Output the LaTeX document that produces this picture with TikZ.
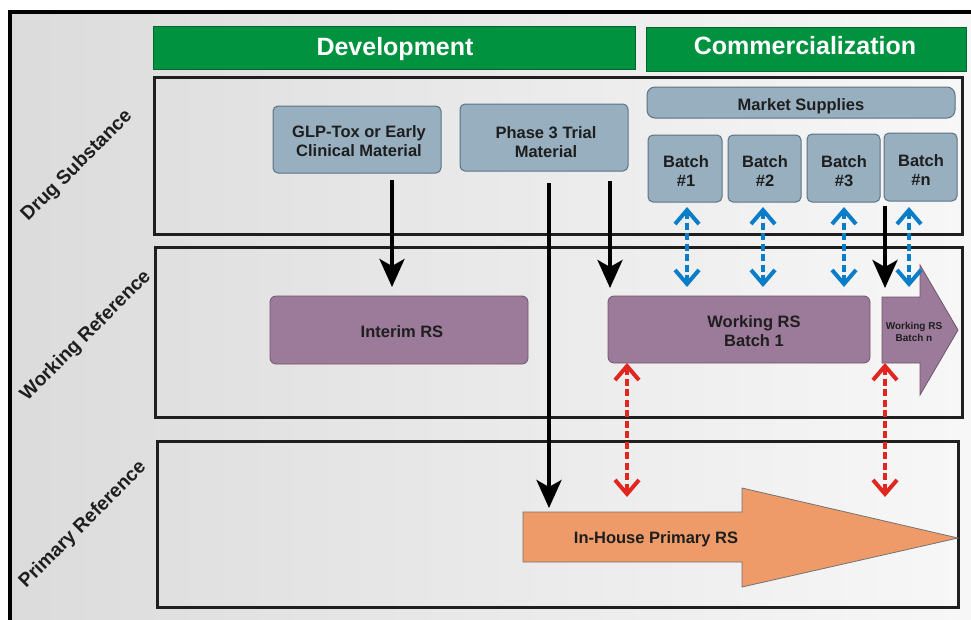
\documentclass[tikz,border=0pt]{standalone}
\usepackage{fontspec}
\setmainfont{Liberation Sans}
\usetikzlibrary{arrows.meta}
\definecolor{grn}{HTML}{00923F}
\definecolor{bgray}{HTML}{97AFBF}
\definecolor{bgrayd}{HTML}{5E7282}
\definecolor{purp}{HTML}{9C7A9A}
\definecolor{purpd}{HTML}{6E566C}
\definecolor{orng}{HTML}{EE9B69}
\definecolor{blu}{HTML}{0A7DC8}
\definecolor{rd}{HTML}{E0261E}
\definecolor{txt}{HTML}{1E1E1E}
\begin{document}
\begin{tikzpicture}[x=1pt,y=-1pt,
  bar/.style={fill=grn, draw=grn!70!black, line width=0.8pt, inner sep=0pt},
  bartxt/.style={text=white, font=\bfseries\fontsize{25}{30}\selectfont, inner sep=0pt, anchor=base},
  lane/.style={draw=black!88, line width=3pt, inner sep=0pt},
  sbox/.style={fill=bgray, draw=bgrayd, line width=1pt, rounded corners=5pt, inner sep=0pt},
  pbox/.style={fill=purp, draw=purpd, line width=0.8pt, rounded corners=6pt, inner sep=0pt},
  lbl/.style={text=txt, font=\bfseries\fontsize{19.3}{22}\selectfont, rotate=45, inner sep=0pt},
  txtlbl/.style={text=txt, font=\bfseries\fontsize{16.5}{19}\selectfont, align=center, inner sep=0pt},
  flow/.style={draw=black, line width=4pt, -{Stealth[length=28pt,width=25pt,inset=7pt]}},
  blink/.style={draw=blu, line width=4pt, dash pattern=on 7pt off 3.5pt,
    {Straight Barb[length=14pt,width=24pt]}-{Straight Barb[length=14pt,width=24pt]}},
  rlink/.style={draw=rd, line width=4pt, dash pattern=on 7pt off 3.5pt,
    {Straight Barb[length=14pt,width=24pt]}-{Straight Barb[length=14pt,width=24pt]}}
]
\useasboundingbox (0,0) rectangle (971,619);
\fill[white] (0,0) rectangle (971,619);
\shade[left color=black!14, right color=black!3] (10,12) rectangle (975,625);
\draw[line width=4pt] (10,625) -- (10,12) -- (975,12);

% header bars
\node[bar, minimum width=482pt, minimum height=43pt] (dev) at (394,47.5) {};
\node[bartxt] (devt) at (395,55) {Development};
\node[bar, minimum width=320pt, minimum height=44pt] (com) at (806,49) {};
\node[bartxt] (comt) at (805,54) {Commercialization};

% lanes
\node[lane, minimum width=808pt, minimum height=157pt] (ds) at (558,155.5) {};
\node[lane, minimum width=807pt, minimum height=170pt] (wr) at (558.5,332) {};
\node[lane, minimum width=801pt, minimum height=166pt] (pr) at (557.5,524) {};

% lane labels
\node[lbl] (lds) at (77,166) {Drug Substance};
\node[lbl] (lwr) at (86,336) {Working Reference};
\node[lbl] (lpr) at (83,525) {Primary Reference};

% drug substance boxes
\node[sbox, minimum width=168pt, minimum height=67pt] (glp) at (357,139.5) {};
\node[txtlbl] (glpt) at (359,141.5) {GLP-Tox or Early\\Clinical Material};
\node[sbox, minimum width=168pt, minimum height=67pt] (ph3) at (544,137.5) {};
\node[txtlbl] (ph3t) at (546,142.5) {Phase 3 Trial\\Material};
\node[sbox, rounded corners=8pt, minimum width=308pt, minimum height=31pt] (ms) at (801,102.5) {};
\node[txtlbl] (mst) at (801,106) {Market Supplies};
\node[sbox, minimum width=74pt, minimum height=67pt] (b1) at (685,168.5) {};
\node[txtlbl] (b1t) at (686,171.5) {Batch\\\#1};
\node[sbox, minimum width=73pt, minimum height=67pt] (b2) at (764.5,168.5) {};
\node[txtlbl] (b2t) at (765,171.5) {Batch\\\#2};
\node[sbox, minimum width=73pt, minimum height=68pt] (b3) at (843.5,168) {};
\node[txtlbl] (b3t) at (844,171) {Batch\\\#3};
\node[sbox, minimum width=73pt, minimum height=68pt] (bn) at (920.5,167) {};
\node[txtlbl] (bnt) at (921,170) {Batch\\\#n};

% working reference
\node[pbox, minimum width=258pt, minimum height=68pt] (interim) at (399,330) {};
\node[txtlbl] (interimt) at (402,332) {Interim RS};
\node[pbox, minimum width=262pt, minimum height=67pt] (wrs1) at (739,329.5) {};
\node[txtlbl] (wrs1t) at (754,331) {Working RS\\Batch 1};
\draw[fill=purp, draw=purpd, line width=0.8pt]
  (882,297) -- (920,297) -- (920,265) -- (958,330) -- (920,395) -- (920,363) -- (882,363) -- cycle;
\node[text=txt, font=\bfseries\fontsize{10}{11.5}\selectfont, align=center, inner sep=0pt] (wrsn) at (914,332) {Working RS\\Batch n};

% primary reference arrow
\draw[fill=orng, draw=black!55, line width=0.8pt]
  (523,512) -- (742,512) -- (742,488) -- (958,538) -- (742,587) -- (742,562) -- (523,562) -- cycle;
\node[txtlbl] (ihp) at (656,539) {In-House Primary RS};

% connectors
\coordinate (g1) at (392,180); \coordinate (g2) at (392,287);
\coordinate (p1) at (549,183); \coordinate (p2) at (549,508);
\coordinate (q1) at (610,181); \coordinate (q2) at (610,288);
\coordinate (n1) at (885,206); \coordinate (n2) at (885,288);
\draw[flow] (g1) -- (g2);
\draw[flow] (p1) -- (p2);
\draw[flow] (q1) -- (q2);
\draw[flow] (n1) -- (n2);

\coordinate (u1) at (687,207); \coordinate (d1) at (687,287);
\coordinate (u2) at (763,207); \coordinate (d2) at (763,287);
\coordinate (u3) at (844,207); \coordinate (d3) at (844,287);
\coordinate (u4) at (909,207); \coordinate (d4) at (909,287);
\draw[blink] (u1) -- (d1);
\draw[blink] (u2) -- (d2);
\draw[blink] (u3) -- (d3);
\draw[blink] (u4) -- (d4);

\coordinate (r1) at (627,363); \coordinate (s1) at (627,497);
\coordinate (r2) at (885,363); \coordinate (s2) at (885,497);
\draw[rlink] (r1) -- (s1);
\draw[rlink] (r2) -- (s2);
\end{tikzpicture}
\end{document}
